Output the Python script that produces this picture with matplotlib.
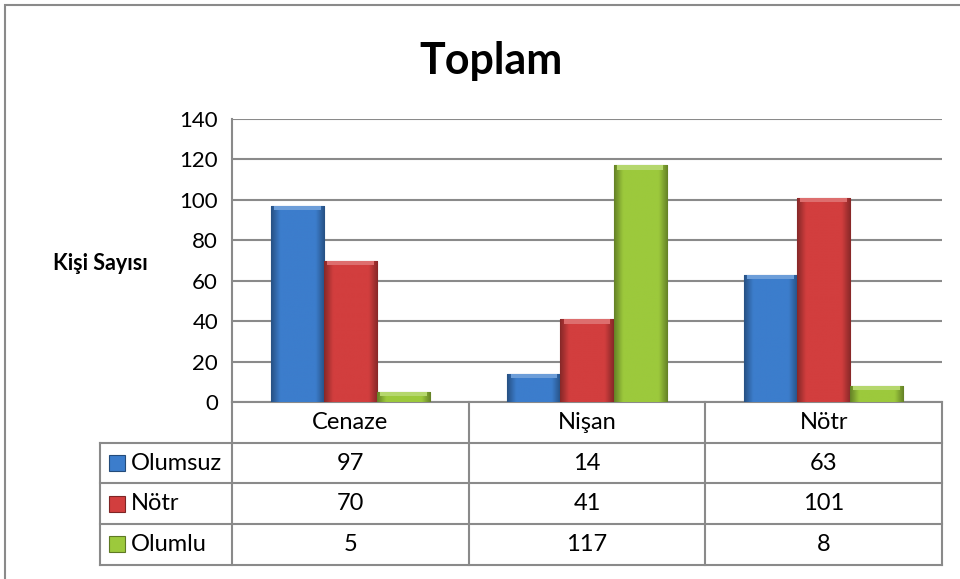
import matplotlib
matplotlib.use("Agg")
import matplotlib.pyplot as plt
import numpy as np
from matplotlib.transforms import blended_transform_factory
from matplotlib.colors import to_rgb
from matplotlib.patches import Rectangle
from matplotlib.lines import Line2D

categories = ["Cenaze", "Nişan", "Nötr"]
series_names = ["Olumsuz", "Nötr", "Olumlu"]
olumsuz = [97, 14, 63]
notr = [70, 41, 101]
olumlu = [5, 117, 8]
series_values = [olumsuz, notr, olumlu]
colors = ["#3C7DCC", "#D23E3E", "#9CC93C"]
yticks = [0, 20, 40, 60, 80, 100, 120, 140]

plt.rcParams['font.family'] = ['Lato', 'DejaVu Sans']

W, H = 960, 579
fig = plt.figure(figsize=(W / 100, H / 100), dpi=100)
fig.patch.set_facecolor("white")

L, R, T, B = 232, 942, 119, 402
ax = fig.add_axes([L / W, 1 - B / H, (R - L) / W, (B - T) / H])

# outer chart border
fig.add_artist(Rectangle((5 / W, -0.05), 1.2, (1 - 5 / H) + 0.05, transform=fig.transFigure,
                         fill=False, edgecolor="#8a8a8a", linewidth=1.5))

x = np.arange(len(categories))
bw = 0.224
offsets = [-bw, 0, bw]

def shade(c, f):
    r = np.array(to_rgb(c))
    if f < 0:
        return tuple(r * (1 + f))
    return tuple(r + (1 - r) * f)

for vals, off, col in zip(series_values, offsets, colors):
    bars = ax.bar(x + off, vals, width=bw, color=col, edgecolor=shade(col, -0.35), linewidth=0.8, zorder=3)
    for b in bars:
        x0, y0 = b.get_x(), b.get_y()
        w, h = b.get_width(), b.get_height()
        t = np.linspace(0, 1, 64)
        prof = 1 - np.abs(t - 0.5) * 2
        base = np.array(to_rgb(col))
        dark = base * 0.65
        img = dark[None, :] + (base - dark)[None, :] * np.clip(prof * 3, 0, 1)[:, None]
        img = img[None, :, :]
        im = ax.imshow(img, extent=[x0, x0 + w, y0, y0 + h], aspect='auto', zorder=3.5, interpolation='bilinear')
        im.set_clip_path(b)
        bh = min(2.2, h * 0.4)
        ax.add_patch(Rectangle((x0 + w * 0.06, y0 + h - bh), w * 0.88, bh, facecolor=shade(col, 0.25),
                               edgecolor='none', zorder=3.7))

ax.set_xlim(-0.5, 2.5)
ax.set_ylim(0, 140)
ax.set_yticks(yticks)
ax.set_yticklabels([str(v) for v in yticks], fontsize=16)
ax.tick_params(axis='y', length=0, pad=10)
ax.set_xticks([])
ax.yaxis.grid(True, color="#8a8a8a", linewidth=1.5, zorder=0)
ax.set_axisbelow(True)
for s in ["top", "right", "bottom"]:
    ax.spines[s].set_visible(False)
ax.spines["left"].set_color("#8a8a8a")
ax.spines["left"].set_linewidth(1.5)

fig.text(491 / W, 1 - 61 / H, "Toplam", ha='center', va='center', fontsize=31, fontweight='bold')
fig.text(100 / W, 1 - 263 / H, "Kişi Sayısı", ha='center', va='center', fontsize=15.5, fontweight='bold')

# data table
tr = blended_transform_factory(ax.transData, ax.transAxes)
rowh = 40.7 / (B - T)
gcol = "#8a8a8a"
lw = 1.5
unit = (R - L) / 3
left_x = -0.5 - 132 / unit
nrows = 1 + len(series_names)

def hline(x0, x1, y):
    ax.add_line(Line2D([x0, x1], [y, y], transform=tr, color=gcol, lw=lw, clip_on=False))

def vline(xx, y0, y1):
    ax.add_line(Line2D([xx, xx], [y0, y1], transform=tr, color=gcol, lw=lw, clip_on=False))

hline(-0.5, 2.5, 0)
for i in range(1, nrows + 1):
    hline(left_x, 2.5, -i * rowh)
for xx in [-0.5, 0.5, 1.5, 2.5]:
    vline(xx, 0, -nrows * rowh)
vline(left_x, -rowh, -nrows * rowh)

for j, c in enumerate(categories):
    ax.text(j, -0.5 * rowh, c, transform=tr, ha='center', va='center', fontsize=17)
for i, (name, vals, col) in enumerate(zip(series_names, series_values, colors)):
    yc = -(i + 1.5) * rowh
    for j, v in enumerate(vals):
        ax.text(j, yc, str(v), transform=tr, ha='center', va='center', fontsize=17)
    ax.text(left_x + 31 / unit, yc, name, transform=tr, ha='left', va='center', fontsize=17)
    kx = left_x + 9 / unit
    kh = 16 / (B - T)
    ax.add_patch(Rectangle((kx, yc - kh / 2), 16 / unit, kh, transform=tr, facecolor=col,
                           edgecolor=shade(col, -0.4), lw=0.8, clip_on=False))

fig.savefig("out.png", dpi=100, facecolor="white")
